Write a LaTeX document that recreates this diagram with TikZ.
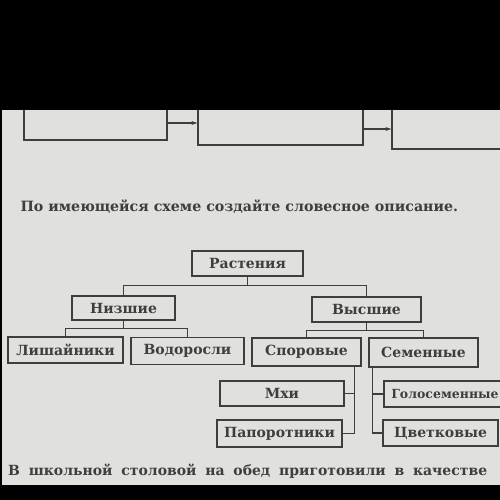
\documentclass[tikz,border=0pt]{standalone}
\usepackage{fontspec}
\setmainfont{DejaVu Serif}
\usepackage{xcolor}
\usetikzlibrary{arrows.meta,positioning}
\definecolor{paper}{RGB}{224,224,221}
\definecolor{ink}{RGB}{62,62,62}

\begin{document}
\begin{tikzpicture}[x=1pt,y=-1pt,
  box/.style={draw=ink,line width=1.2pt,inner sep=0pt,minimum height=25pt,
    font=\fontsize{14}{16}\selectfont\bfseries,text=ink},
  link/.style={draw=ink,line width=1.1pt},
  flow/.style={link,-{Stealth[length=6pt,width=4pt]}}]
  % Page
  \useasboundingbox (0,0) rectangle (500,500);
  \clip (0,0) rectangle (500,500);
  \fill[paper] (0,0) rectangle (500,500);
  % Top chain (cut by the photo edge)
  \node[box,minimum width=143pt,minimum height=34pt] (step1) at (95.5,123) {};
  \node[box,minimum width=165pt,minimum height=38pt] (step2) at (280.5,126) {};
  \node[box,minimum width=170pt,minimum height=40pt] (step3) at (477,129) {};
  \draw[flow] (step1.east) -- (step2.west |- step1.east);
  \draw[flow] ([yshift=-3pt]step2.east) -- (step3.west);
  % Task
  \node[anchor=west,text=ink,font=\fontsize{14.2}{16}\selectfont\bfseries] (task) at (17,207)
    {По имеющейся схеме создайте словесное описание.};
  % Tree
  \node[box,minimum width=111pt] (plants) at (247.5,263.5) {Растения};
  \node[box,minimum width=103pt,minimum height=24pt] (lower) at (123.5,308) {Низшие};
  \node[box,minimum width=109pt] (higher) at (366.5,309.5) {Высшие};
  \node[box,minimum width=115pt,minimum height=26pt] (lichens) at (65.5,350) {Лишайники};
  \node[box,minimum width=113pt,minimum height=27pt] (algae) at (187.5,351) {Водоросли};
  \node[box,minimum width=109pt,minimum height=28pt] (spore) at (306.5,352) {Споровые};
  \node[box,minimum width=109pt,minimum height=29pt] (seed) at (423.5,352.5) {Семенные};
  \node[box,minimum width=124pt] (mosses) at (282,393.5) {Мхи};
  \node[box,minimum width=125pt,minimum height=27pt] (ferns) at (279.5,433.5) {Папоротники};
  \node[box,minimum width=122pt,minimum height=26pt,font=\fontsize{12.5}{15}\selectfont\bfseries] (gymno) at (445,394) {Голосеменные};
  \node[box,minimum width=115pt,minimum height=26pt] (flower) at (440.5,433) {Цветковые};
  % Links
  \draw[link] (plants.south) -- ++(0,9) -| (lower.north);
  \draw[link] (plants.south) -- ++(0,9) -| (higher.north);
  \draw[link] (lower.south) -- ++(0,8) -| (lichens.north);
  \draw[link] (lower.south) -- ++(0,8) -| (algae.north);
  \draw[link] (higher.south) -- ++(0,8) -| (spore.north);
  \draw[link] (higher.south) -- ++(0,8) -| (seed.north);
  \draw[link] ([xshift=-7pt]spore.south east) |- (mosses.east);
  \draw[link] ([xshift=-7pt]spore.south east) |- (ferns.east);
  \draw[link] ([xshift=4pt]seed.south west) |- (gymno.west);
  \draw[link] ([xshift=4pt]seed.south west) |- (flower.west);
  % Next task
  \node[anchor=west,text=ink,font=\fontsize{14}{16}\selectfont\bfseries,inner sep=0pt] (next) at (8,471)
    {\makebox[479pt][s]{В школьной столовой на обед приготовили в качестве}};
  % Photo frame
  \fill[black] (0,0) rectangle (500,110);
  \fill[black] (0,485) rectangle (500,500);
  \fill[black] (0,0) rectangle (2,500);
\end{tikzpicture}
\end{document}
